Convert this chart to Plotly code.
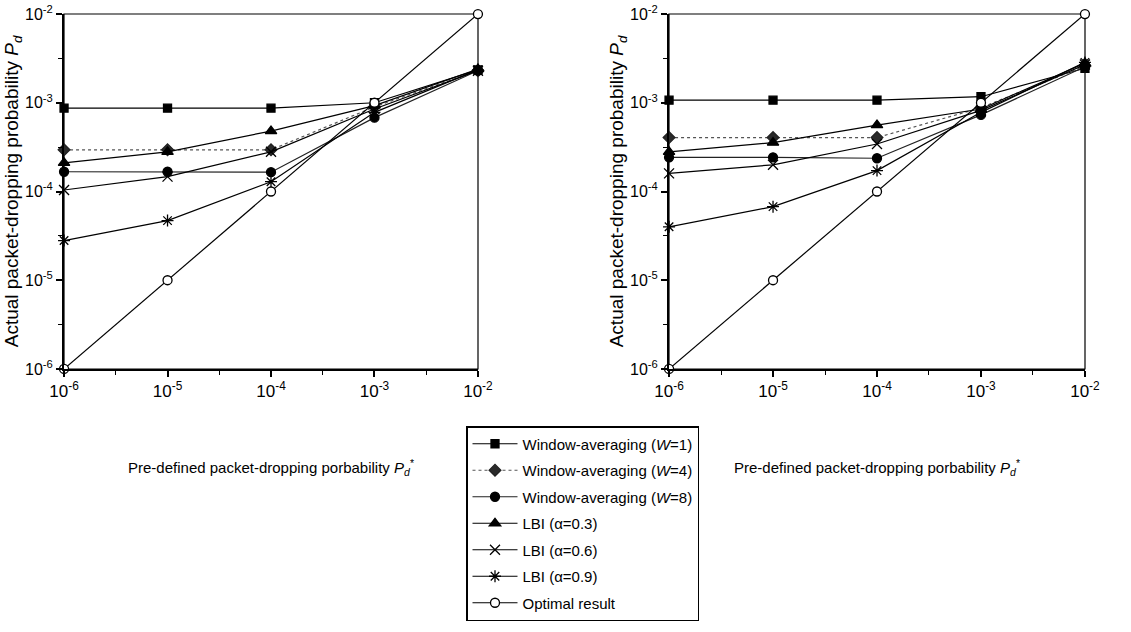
import plotly.graph_objects as go

# ---------------- data ----------------
pd_star = [1e-6, 1e-5, 1e-4, 1e-3, 1e-2]

series_names = [
    "Window-averaging (<i>W</i>=1)",
    "Window-averaging (<i>W</i>=4)",
    "Window-averaging (<i>W</i>=8)",
    "LBI (α=0.3)",
    "LBI (α=0.6)",
    "LBI (α=0.9)",
    "Optimal result",
]

left_w1 = [8.7e-4, 8.7e-4, 8.7e-4, 1.0e-3, 2.35e-3]
left_w4 = [2.95e-4, 2.95e-4, 2.95e-4, 9.0e-4, 2.3e-3]
left_w8 = [1.67e-4, 1.67e-4, 1.65e-4, 6.8e-4, 2.3e-3]
left_lbi03 = [2.1e-4, 2.8e-4, 4.8e-4, 9.3e-4, 2.4e-3]
left_lbi06 = [1.04e-4, 1.47e-4, 2.8e-4, 8.5e-4, 2.3e-3]
left_lbi09 = [2.8e-5, 4.7e-5, 1.29e-4, 7.8e-4, 2.35e-3]
left_opt = [1e-6, 1e-5, 1e-4, 1e-3, 1e-2]

right_w1 = [1.07e-3, 1.07e-3, 1.07e-3, 1.17e-3, 2.45e-3]
right_w4 = [4.05e-4, 4.05e-4, 4.05e-4, 8.8e-4, 2.6e-3]
right_w8 = [2.43e-4, 2.43e-4, 2.37e-4, 7.3e-4, 2.55e-3]
right_lbi03 = [2.8e-4, 3.55e-4, 5.6e-4, 8.5e-4, 2.8e-3]
right_lbi06 = [1.6e-4, 2.0e-4, 3.43e-4, 8.2e-4, 2.7e-3]
right_lbi09 = [4.0e-5, 6.75e-5, 1.72e-4, 7.8e-4, 2.85e-3]
right_opt = [1e-6, 1e-5, 1e-4, 1e-3, 1e-2]

tick_vals = [1e-6, 1e-5, 1e-4, 1e-3, 1e-2]
tick_text = ["10<sup>-6</sup>", "10<sup>-5</sup>", "10<sup>-4</sup>", "10<sup>-3</sup>", "10<sup>-2</sup>"]
minor_vals = [10 ** -5.5, 10 ** -4.5, 10 ** -3.5, 10 ** -2.5]

x_title = "Pre-defined packet-dropping porbability <i>P</i><sub><i>d</i></sub><sup>*</sup>"
y_title = "Actual packet-dropping probability <i>P</i><sub><i>d</i></sub>"

# ---------------- styles ----------------
styles = [
    dict(symbol="square", size=8, color="black", fill="black", dash="solid", lcolor="black"),
    dict(symbol="diamond", size=9, color="#222", fill="#2a2a2a", dash="dot", lcolor="#555"),
    dict(symbol="circle", size=9, color="black", fill="black", dash="solid", lcolor="#222"),
    dict(symbol="triangle-up", size=10, color="black", fill="black", dash="solid", lcolor="black"),
    dict(symbol="x-thin", size=10, color="black", fill="black", dash="solid", lcolor="black"),
    dict(symbol="asterisk", size=10, color="black", fill="black", dash="solid", lcolor="black"),
    dict(symbol="circle", size=9, color="black", fill="white", dash="solid", lcolor="black"),
]

left_sets = [left_w1, left_w4, left_w8, left_lbi03, left_lbi06, left_lbi09, left_opt]
right_sets = [right_w1, right_w4, right_w8, right_lbi03, right_lbi06, right_lbi09, right_opt]

fig = go.Figure()


def add(ys, name, st, xa, ya, show):
    fig.add_trace(go.Scatter(
        x=pd_star, y=ys, name=name, mode="lines+markers",
        xaxis=xa, yaxis=ya, showlegend=show, legendgroup=name,
        cliponaxis=False,
        line=dict(color=st["lcolor"], width=1.2, dash=st["dash"]),
        marker=dict(symbol=st["symbol"], size=st["size"], color=st["fill"],
                    line=dict(color=st["color"], width=1.3)),
    ))


for ys, nm, st in zip(left_sets, series_names, styles):
    add(ys, nm, st, "x", "y", True)
for ys, nm, st in zip(right_sets, series_names, styles):
    add(ys, nm, st, "x2", "y2", False)

font_family = "Liberation Sans, Arial, sans-serif"
axis_range = [-6.0005, -1.9995]


def xaxis_cfg(domain, anchor):
    return dict(
        type="log", range=axis_range, domain=domain, anchor=anchor,
        tickmode="array", tickvals=tick_vals, ticktext=tick_text,
        ticks="outside", ticklen=6, tickwidth=1.5, tickcolor="black",
        minor=dict(tickmode="array", tickvals=minor_vals, ticks="outside", ticklen=4, tickwidth=1.2, tickcolor="black"),
        showline=True, linecolor="black", linewidth=2, showgrid=False, zeroline=False,
        tickfont=dict(size=17, color="black", family=font_family),
        title=dict(text=x_title, font=dict(size=15, color="black", family=font_family), standoff=62),
        automargin=False,
    )


def yaxis_cfg(domain, anchor):
    return dict(
        type="log", range=axis_range, domain=domain, anchor=anchor,
        tickmode="array", tickvals=tick_vals, ticktext=tick_text,
        ticks="outside", ticklen=6, tickwidth=1.5, tickcolor="black",
        minor=dict(tickmode="array", tickvals=minor_vals, ticks="outside", ticklen=4, tickwidth=1.2, tickcolor="black"),
        showline=True, linecolor="black", linewidth=2, showgrid=False, zeroline=False,
        tickfont=dict(size=16, color="black", family=font_family),
        title=dict(text=y_title, font=dict(size=19, color="black", family=font_family), standoff=0),
        automargin=False,
    )


ydom = [1 - 369 / 632, 1 - 14 / 632]
fig.update_layout(
    width=1131, height=632,
    margin=dict(l=0, r=0, t=0, b=0),
    paper_bgcolor="white", plot_bgcolor="white",
    font=dict(family=font_family, color="black"),
    xaxis=xaxis_cfg([64 / 1131, 478 / 1131], "y"),
    yaxis=yaxis_cfg(ydom, "x"),
    xaxis2=xaxis_cfg([669 / 1131, 1085 / 1131], "y2"),
    yaxis2=yaxis_cfg(ydom, "x2"),
    legend=dict(
        x=466 / 1131, y=1 - 426 / 632, xanchor="left", yanchor="top",
        bordercolor="black", borderwidth=1.5, bgcolor="white",
        font=dict(size=15, color="black", family=font_family),
        tracegroupgap=4, itemwidth=45,
    ),
    shapes=[
        dict(type="rect", xref="x domain", yref="y domain", x0=0, x1=1, y0=0, y1=1,
             line=dict(color="black", width=1.2), layer="below"),
        dict(type="rect", xref="x2 domain", yref="y2 domain", x0=0, x1=1, y0=0, y1=1,
             line=dict(color="black", width=1.2), layer="below"),
    ],
)

fig.write_html("out.html")
